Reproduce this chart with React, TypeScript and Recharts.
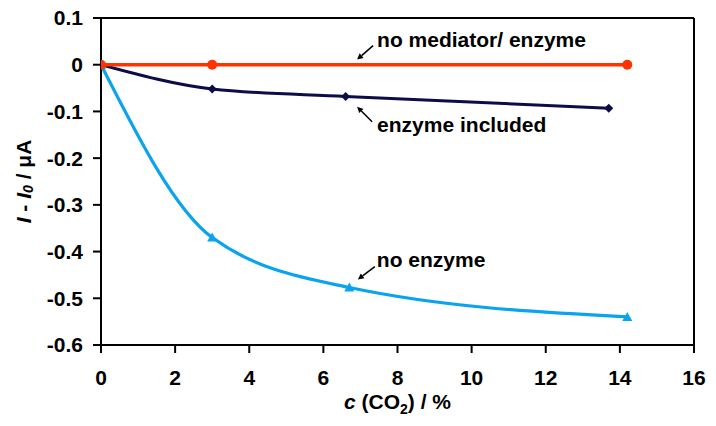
import React from 'react';
import { ComposedChart, Line, XAxis, YAxis, ReferenceLine, ReferenceDot } from 'recharts';

const xTicks = [0, 2, 4, 6, 8, 10, 12, 14, 16];
const yTicks = [0.1, 0, -0.1, -0.2, -0.3, -0.4, -0.5, -0.6];

const noMediatorX = [0, 3, 14.2];
const noMediatorY = [0, 0, 0];
const enzymeX = [0, 3, 6.6, 13.7];
const enzymeY = [0, -0.052, -0.068, -0.093];
const noEnzymeX = [0, 3, 6.7, 14.2];
const noEnzymeY = [0, -0.37, -0.477, -0.54];

const annoText = ['no mediator/ enzyme', 'enzyme included', 'no enzyme'];
const annoTipX = [6.91, 6.91, 6.93];
const annoTipY = [0.011, -0.09, -0.46];

const zip = (xs: number[], ys: number[]) => xs.map((x, i) => ({ x, y: ys[i] }));
const redData = zip(noMediatorX, noMediatorY);
const navyData = zip(enzymeX, enzymeY);
const blueData = zip(noEnzymeX, noEnzymeY);

const FONT = '"Liberation Sans", Arial, sans-serif';
const RED = '#ff3300';
const NAVY = '#0c0c48';
const BLUE = '#0aa4ee';

// offsets: [tailDx, tailDy, textDx, textDy]
const annoOffsets = [
  [16, -14, 20, -13],
  [15, 15, 20, 25],
  [17, -13, 19, -13],
];

const makeAnno = (i: number) => (p: any) => {
  const { cx, cy } = p;
  const [tdx, tdy, txx, txy] = annoOffsets[i];
  const len = Math.sqrt(tdx * tdx + tdy * tdy);
  const ux = -tdx / len;
  const uy = -tdy / len;
  const hl = 6;
  const hw = 3;
  const bx = cx - ux * hl;
  const by = cy - uy * hl;
  const pts = `${cx},${cy} ${bx - uy * hw},${by + ux * hw} ${bx + uy * hw},${by - ux * hw}`;
  return (
    <g>
      <line x1={cx + tdx} y1={cy + tdy} x2={bx} y2={by} stroke="#000" strokeWidth={1.5} />
      <polygon points={pts} fill="#000" />
      <text x={cx + txx} y={cy + txy} fontFamily={FONT} fontWeight="bold" fontSize={21} fill="#000">
        {annoText[i]}
      </text>
    </g>
  );
};

const RedDot = (p: any) => <circle key={p.index} cx={p.cx} cy={p.cy} r={5} fill={RED} />;
const NavyDot = (p: any) => (
  <polygon
    key={p.index}
    points={`${p.cx},${p.cy - 4.5} ${p.cx + 4.5},${p.cy} ${p.cx},${p.cy + 4.5} ${p.cx - 4.5},${p.cy}`}
    fill={NAVY}
  />
);
const BlueDot = (p: any) => (
  <polygon
    key={p.index}
    points={`${p.cx},${p.cy - 5} ${p.cx + 5},${p.cy + 4} ${p.cx - 5},${p.cy + 4}`}
    fill={BLUE}
  />
);

const YLabel = (props: any) => {
  const vb = props.viewBox || { x: 0, y: 0, width: 0, height: 0 };
  const cx = vb.x + 23;
  const cy = vb.y + vb.height / 2;
  return (
    <text
      x={cx}
      y={cy}
      transform={`rotate(-90, ${cx}, ${cy})`}
      textAnchor="middle"
      dominantBaseline="central"
      fontFamily={FONT}
      fontWeight="bold"
      fontSize={21}
      fill="#000"
    >
      <tspan fontStyle="italic">I</tspan>
      <tspan> - </tspan>
      <tspan fontStyle="italic">I</tspan>
      <tspan fontStyle="italic" fontSize={14} dy={5}>0</tspan>
      <tspan dy={-5}> / μA</tspan>
    </text>
  );
};

const XLabel = (props: any) => {
  const vb = props.viewBox || { x: 0, y: 0, width: 0, height: 0 };
  const cx = vb.x + vb.width / 2;
  const y = vb.y + 64;
  return (
    <text x={cx} y={y} textAnchor="middle" fontFamily={FONT} fontWeight="bold" fontSize={21} fill="#000">
      <tspan fontStyle="italic">c</tspan>
      <tspan> (CO</tspan>
      <tspan fontSize={14} dy={5}>2</tspan>
      <tspan dy={-5}>) / %</tspan>
    </text>
  );
};

const tickStyle = { fontFamily: FONT, fontWeight: 'bold', fontSize: 21, fill: '#000' } as any;

export default function App() {
  return (
    <div style={{ position: 'absolute', left: 0, top: 0, width: 716, height: 426, background: '#fff' }}>
      <ComposedChart width={716} height={426} margin={{ top: 18, right: 22, left: 0, bottom: 0 }}>
        <XAxis
          type="number"
          dataKey="x"
          domain={[0, 16]}
          ticks={xTicks}
          interval={0}
          height={81}
          tick={tickStyle}
          tickSize={8}
          tickMargin={17}
          axisLine={{ stroke: '#000', strokeWidth: 2 }}
          tickLine={{ stroke: '#000', strokeWidth: 2 }}
          label={<XLabel />}
          allowDataOverflow
        />
        <YAxis
          type="number"
          dataKey="y"
          domain={[-0.6, 0.1]}
          ticks={yTicks}
          interval={0}
          width={101}
          tick={tickStyle}
          tickSize={8}
          tickMargin={10}
          tickFormatter={(v: number) => (Math.abs(v) < 1e-9 ? '0' : String(Math.round(v * 10) / 10))}
          axisLine={{ stroke: '#000', strokeWidth: 2 }}
          tickLine={{ stroke: '#000', strokeWidth: 2 }}
          label={<YLabel />}
          allowDataOverflow
        />
        <ReferenceLine y={0.1} stroke="#000" strokeWidth={2} />
        <ReferenceLine x={16} stroke="#000" strokeWidth={2} />
        <Line
          data={blueData}
          dataKey="y"
          type="monotone"
          stroke={BLUE}
          strokeWidth={3.2}
          dot={BlueDot}
          activeDot={false}
          isAnimationActive={false}
        />
        <Line
          data={navyData}
          dataKey="y"
          type="monotone"
          stroke={NAVY}
          strokeWidth={3}
          dot={NavyDot}
          activeDot={false}
          isAnimationActive={false}
        />
        <Line
          data={redData}
          dataKey="y"
          type="linear"
          stroke={RED}
          strokeWidth={3.5}
          dot={RedDot}
          activeDot={false}
          isAnimationActive={false}
        />
        {annoText.map((t, i) => (
          <ReferenceDot key={t} x={annoTipX[i]} y={annoTipY[i]} r={0} shape={makeAnno(i)} />
        ))}
      </ComposedChart>
    </div>
  );
}
